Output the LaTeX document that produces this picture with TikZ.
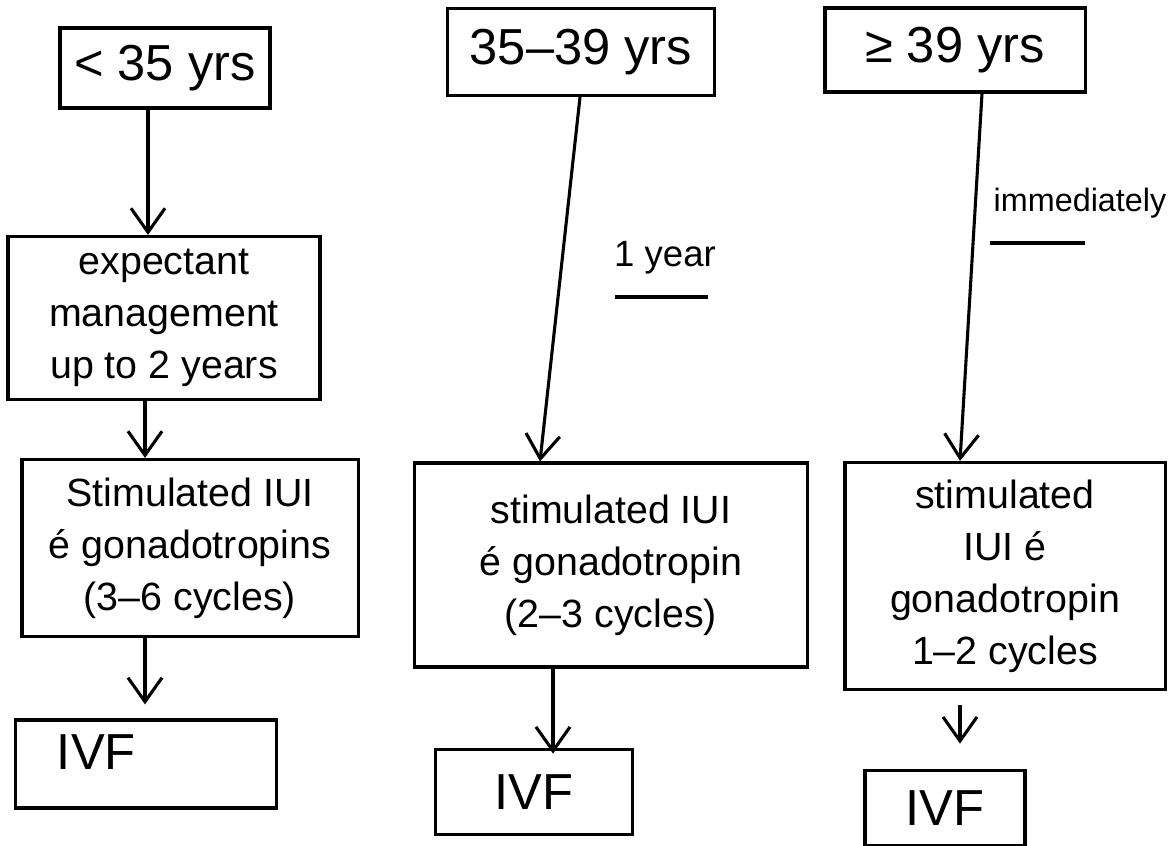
\documentclass[tikz,border=0pt]{standalone}
\usepackage{fontspec}
\setmainfont{Liberation Sans}
\usetikzlibrary{arrows.meta,calc}
\begin{document}
\begin{tikzpicture}[x={(0.025cm,0)},y={(0,-0.025cm)},
  box/.style={draw,line width=2.2pt,rectangle,inner sep=0pt},
  big/.style={font=\fontsize{36}{40}\selectfont},
  mid/.style={font=\fontsize{28}{37}\selectfont,align=center},
  conn/.style={line width=2.2pt,-{Straight Barb[length=0.6cm,width=0.85cm,line width=2.2pt]}},
  note/.style={font=\fontsize{26}{30}\selectfont},
  uline/.style={line width=2.2pt}]
\useasboundingbox (0,0) rectangle (1169,846);
% age boxes
\node[box,minimum width=5.25cm,minimum height=2cm,big] (b1) at (165,68) {< 35 yrs};
\node[box,minimum width=6.675cm,minimum height=2.175cm,big] (b2) at (581,52) {35–39 yrs};
\node[box,minimum width=6.5cm,minimum height=2.1cm,big] (b3) at (955,50) {≥ 39 yrs};
% column 1
\node[box,minimum width=7.8cm,minimum height=4.075cm,mid] (e1) at (164,318) {expectant\\management\\up to 2 years};
\node[box,minimum width=8.4cm,minimum height=4.425cm,mid] (s1) at (190,548) {Stimulated IUI\\é gonadotropins\\(3–6 cycles)};
\node[box,minimum width=6.525cm,minimum height=2.2cm] (i1) at (146,764) {};
\node[big,anchor=west] (t1) at (52,752) {IVF};
% column 2
\node[box,minimum width=9.825cm,minimum height=5.1cm,mid] (s2) at (611,565) {stimulated IUI\\é gonadotropin\\(2–3 cycles)};
\node[box,minimum width=4.925cm,minimum height=2.125cm,big] (i2) at (534,792) {IVF};
% column 3
\node[box,minimum width=8cm,minimum height=5.675cm,mid] (s3) at (1005,576) {stimulated\\IUI é\\gonadotropin\\1–2 cycles};
\node[box,minimum width=4cm,minimum height=1.875cm,big] (i3) at (945,808) {IVF};
% labels
\node[note] (l1) at (665,258) {1 year};
\coordinate (u1a) at (615,297); \coordinate (u1b) at (708,297);
\draw[uline] (u1a) -- (u1b);
\node[note,font=\fontsize{23}{28}\selectfont] (l2) at (1080,203) {immediately};
\coordinate (u2a) at (990,243); \coordinate (u2b) at (1085,243);
\draw[uline] (u2a) -- (u2b);
% connectors
\draw[conn] ($(b1.south)+(-17,0)$) -- ($(e1.north)+(-16,0)$);
\draw[conn] ($(e1.south)+(-19,0)$) -- ($(s1.north)+(-45,0)$);
\draw[conn,shorten >=10] ($(s1.south)+(-45,0)$) -- ($(i1.north)+(-1,0)$);
\draw[conn] ($(b2.south)+(-1,0)$) -- ($(s2.north)+(-71,0)$);
\draw[conn,shorten >=-4] ($(s2.south)+(-58,0)$) -- ($(i2.north)+(19,0)$);
\draw[conn] ($(b3.south)+(27,0)$) -- ($(s3.north)+(-45,0)$);
\draw[conn,shorten <=10,shorten >=18] ($(s3.south)+(-45,0)$) -- ($(i3.north)+(15,0)$);
\end{tikzpicture}
\end{document}
